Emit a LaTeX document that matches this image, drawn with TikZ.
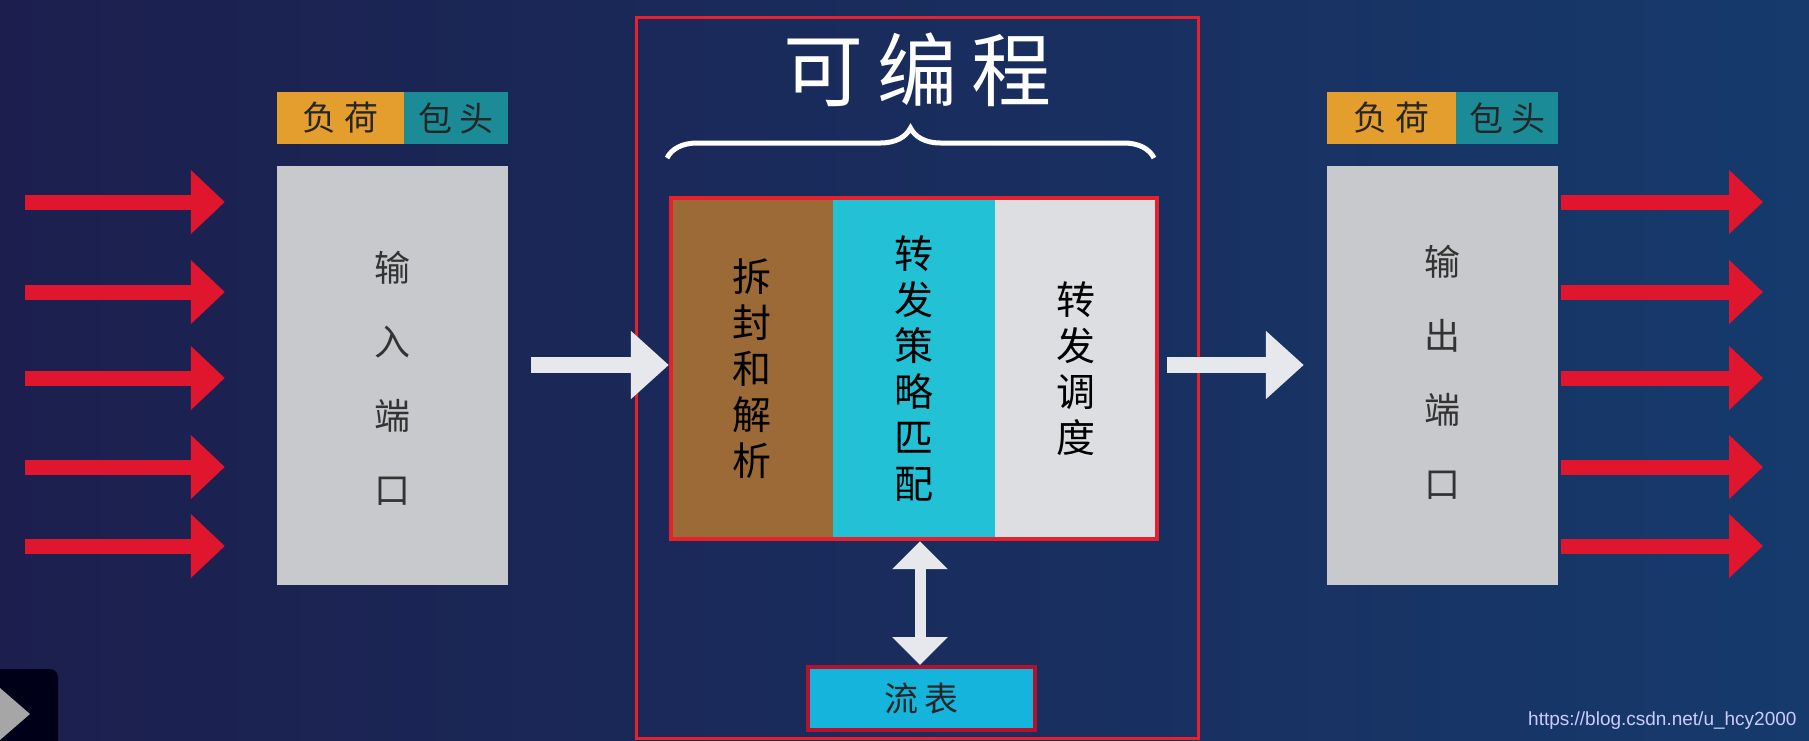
\documentclass[tikz,border=0pt]{standalone}
\usepackage{fontspec}
\setmainfont{Noto Sans CJK SC}
\newfontfamily\urlfont{Liberation Sans}
\usepackage{tikz}
\usetikzlibrary{positioning,arrows.meta,fit,decorations.pathreplacing}
\definecolor{bgleft}{HTML}{1C1F4E}
\definecolor{bgmid}{HTML}{173B6F}
\definecolor{bgright}{HTML}{163A6C}
\definecolor{arrowred}{HTML}{E0152E}
\definecolor{arrowwhite}{HTML}{E6E8EC}
\definecolor{loadorange}{HTML}{E49E2E}
\definecolor{headteal}{HTML}{1B8B97}
\definecolor{portgray}{HTML}{C8C9CC}
\definecolor{parsebrown}{HTML}{9C6A36}
\definecolor{matchcyan}{HTML}{22C1D6}
\definecolor{schedgray}{HTML}{DDDEE1}
\definecolor{flowcyan}{HTML}{14B4DC}
\definecolor{flowred}{HTML}{B3122C}
\definecolor{framered}{HTML}{E8202C}
\tikzset{
    hdr/.style = {
        shape=rectangle,
        minimum height=52pt,
        inner sep=0pt,
        text=black!85,
        font=\fontsize{34}{34}\selectfont
    },
    port/.style = {
        fill=portgray,
        shape=rectangle,
        minimum width=231pt,
        minimum height=419pt,
        align=center,
        text=black!80,
        font=\fontsize{36}{74}\selectfont
    },
    column/.style = {
        shape=rectangle,
        minimum width=162pt,
        minimum height=341pt,
        inner sep=0pt,
        align=center,
        font=\fontsize{39}{46}\selectfont
    },
    redarrow/.style = {
        draw=arrowred,
        line width=15pt,
        -{Triangle[width=62pt,length=34pt]}
    },
    whitearrow/.style = {
        draw=arrowwhite,
        line width=16pt,
        -{Triangle[width=66pt,length=38pt]}
    },
}

\begin{document}
\begin{tikzpicture}[x=1pt, y=-1pt]
            \useasboundingbox (0,0) rectangle (1809,740);
            \shade[left color=bgleft, middle color=bgmid, right color=bgright] (0,0) rectangle (1809,740);

            \node[hdr, fill=loadorange, minimum width=127pt] (inload) at (340.5,118) {负\hspace{8pt}荷};
            \node[hdr, fill=headteal, minimum width=104pt] (inhead) at (456,118) {包\hspace{8pt}头};
            \node[port] (inbox) at (392.5,375.5) {\\[-38pt]输\\入\\端\\口};

            \node[hdr, fill=loadorange, minimum width=129pt] (outload) at (1391.5,118) {负\hspace{8pt}荷};
            \node[hdr, fill=headteal, minimum width=102pt] (outhead) at (1507,118) {包\hspace{8pt}头};
            \node[port] (outbox) at (1442.5,375.5) {\\[-50pt]输\\出\\端\\口};

            \draw[framered, line width=3pt] (636,17) rectangle (1198,738);
            \node[text=white, font=\fontsize{80}{80}\selectfont] (title) at (917,70) {可\hspace{14pt}编\hspace{14pt}程};
            \draw[white, line width=5pt, decorate, decoration={brace, amplitude=30pt}] (667,158) -- (1154,158);

            \node[column, fill=parsebrown] (parse) at (752,368.5) {拆\\封\\和\\解\\析};
            \node[column, fill=matchcyan] (match) at (914,368.5) {转\\发\\策\\略\\匹\\配};
            \node[column, fill=schedgray] (sched) at (1076,368.5) {转\\发\\调\\度};
            \node[draw=framered, line width=4pt, inner sep=0pt, fit=(parse)(sched)] (core) {};

            \node[draw=flowred, fill=flowcyan, line width=4pt, minimum width=227pt, minimum height=63pt, font=\fontsize{34}{34}\selectfont, text=black!85] (flow) at (921.5,698.5) {流\hspace{6pt}表};

            \foreach \y [count=\i] in {202,292,378,467,546} {
                \coordinate (src\i) at (25,\y);
                \coordinate (dst\i) at (1763,\y);
                \path[redarrow, shorten >=52pt] (src\i) -- (src\i -| inbox.west);
                \path[redarrow, shorten <=3pt] (dst\i -| outbox.east) -- (dst\i);
            }

            \path[whitearrow, shorten <=23pt] (inbox.east |- 0,365) -- (core.west |- 0,365);
            \path[whitearrow, shorten <=8pt, shorten >=23pt] (core.east |- 0,365) -- (outbox.west |- 0,365);
            \path[draw=arrowwhite, line width=11pt, {Triangle[width=54pt,length=28pt]}-{Triangle[width=54pt,length=28pt]}] (flow.north -| 920,0) -- (core.south -| 920,0);

            \fill[black!90!blue, rounded corners=8pt] (-10,669) rectangle (58,760);
            \fill[black!35] (0,688) -- (30,714) -- (0,740) -- cycle;
            \node[anchor=base east, text=white!80!blue, font=\urlfont\fontsize{19}{19}\selectfont] (url) at (1800,725) {https://blog.csdn.net/u\_hcy2000};
        \end{tikzpicture}
\end{document}
